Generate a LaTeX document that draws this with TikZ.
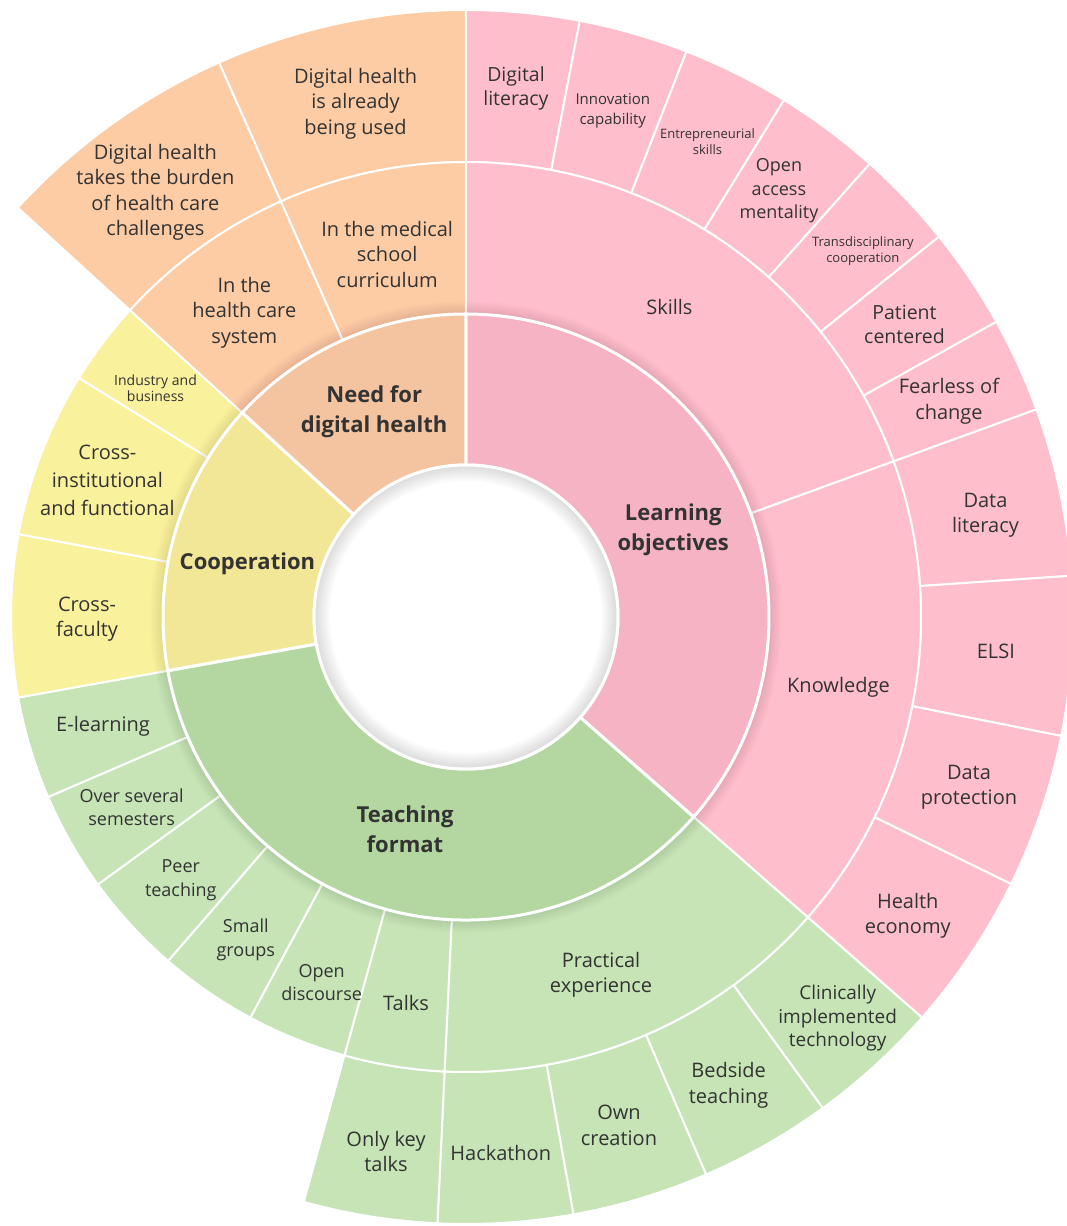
\documentclass[tikz,border=0pt]{standalone}
\usepackage{fontspec}
\setmainfont{Open Sans}
\usepackage{tikz}
\usetikzlibrary{calc}

\definecolor{pinkin}{HTML}{F5B3C4}
\definecolor{pinkout}{HTML}{FFBECB}
\definecolor{greenin}{HTML}{B4D7A1}
\definecolor{greenout}{HTML}{C6E4B6}
\definecolor{yellowin}{HTML}{F2E697}
\definecolor{yellowout}{HTML}{FAF19C}
\definecolor{orangein}{HTML}{F4C3A0}
\definecolor{orangeout}{HTML}{FDCBA4}
\definecolor{labgray}{HTML}{333333}

\tikzset{
seg/.style = {draw=white, line width=#1},
seg/.default = 2pt,
lab/.style = {align=center, text=labgray, inner sep=0pt,
              font=\fontsize{20}{25.5}\selectfont},
labm/.style = {lab, font=\fontsize{18}{23.5}\selectfont},
labs/.style = {lab, font=\fontsize{15}{19.5}\selectfont},
labxs/.style = {lab, font=\fontsize{13}{16.5}\selectfont},
labin/.style = {lab, font=\bfseries\fontsize{22}{30}\selectfont}
}
% [label options]{name}{start angle}{end angle}{inner r}{outer r}{colour}{text}
\newcommand{\ringseg}[8][]{%
  \filldraw[seg, fill=#7] (#3:#5pt) arc[start angle=#3, end angle=#4, radius=#5pt]
    -- (#4:#6pt) arc[start angle=#4, end angle=#3, radius=#6pt] -- cycle;
  \node[lab, #1] (#2) at ({(#3+#4)/2}:{(#5+#6)/2*1pt}) {#8};}

\begin{document}
\begin{tikzpicture}[x=1pt, y=1pt]
    \useasboundingbox (-466,-609) rectangle (600,617);

    % outer ring
    \ringseg[font=\fontsize{19.5}{24}\selectfont]{diglit}{90}{79.2}{455}{607}{pinkout}{Digital\\literacy};
    \ringseg[labs, yshift=-4]{innov}{79.2}{68.7}{455}{607}{pinkout}{Innovation\\capability};
    \ringseg[labxs, xshift=5]{entre}{68.7}{58.4}{455}{607}{pinkout}{Entrepreneurial\\skills};
    \ringseg[labm, xshift=-4]{openacc}{58.4}{48.3}{455}{607}{pinkout}{Open\\access\\mentality};
    \ringseg[labxs, xshift=12]{transd}{48.3}{38.8}{455}{607}{pinkout}{Transdisciplinary\\cooperation};
    \ringseg[font=\fontsize{19.5}{24}\selectfont, shift={(-2,-4)}]{patient}{38.8}{29.1}{455}{607}{pinkout}{Patient\\centered};
    \ringseg[yshift=-5]{fearless}{29.1}{20}{455}{607}{pinkout}{Fearless of\\change};
    \ringseg[yshift=-8]{datalit}{20}{3.9}{455}{607}{pinkout}{Data\\literacy};
    \ringseg{elsi}{3.9}{-11.3}{455}{607}{pinkout}{ELSI};
    \ringseg{dataprot}{-11.3}{-26.1}{455}{607}{pinkout}{Data\\protection};
    \ringseg[yshift=-4]{healthec}{-26.1}{-41.3}{455}{607}{pinkout}{Health\\economy};
    \ringseg[font=\fontsize{19}{23.5}\selectfont, shift={(14,-9)}]{clinic}{-41.3}{-54}{455}{607}{greenout}{Clinically\\implemented\\technology};
    \ringseg[yshift=-7]{bedside}{-54}{-66.7}{455}{607}{greenout}{Bedside\\teaching};
    \ringseg{owncr}{-66.7}{-79.8}{455}{607}{greenout}{Own\\creation};
    \ringseg[yshift=-6]{hack}{-79.8}{-92.7}{455}{607}{greenout}{Hackathon};
    \ringseg[shift={(4,-10)}]{keytalks}{-92.7}{-105.5}{455}{607}{greenout}{Only key\\talks};
    \ringseg[yshift=-6]{burden}{137.6}{114}{455}{607}{orangeout}{Digital health\\takes the burden\\of health care\\challenges};
    \ringseg[yshift=-6]{used}{114}{90}{455}{607}{orangeout}{Digital health\\is already\\being used};

    % middle ring
    \ringseg[xshift=-14]{skills}{90}{20}{303}{455}{pinkout}{Skills};
    \ringseg{knowl}{20}{-41.3}{303}{455}{pinkout}{Knowledge};
    \ringseg[shift={(-13,-9)}]{practical}{-41.3}{-92.7}{303}{455}{greenout}{Practical\\experience};
    \ringseg[yshift=-12]{talks}{-92.7}{-105.5}{303}{455}{greenout}{Talks};
    \ringseg[labm, shift={(-3,-14)}]{discourse}{-105.5}{-118.3}{303}{455}{greenout}{Open\\discourse};
    \ringseg[labm, shift={(-5,-11)}]{small}{-118.3}{-130.9}{303}{455}{greenout}{Small\\groups};
    \ringseg[labm, shift={(-6,-7)}]{peer}{-130.9}{-144}{303}{455}{greenout}{Peer\\teaching};
    \ringseg[labm, shift={(-5,-3)}]{semesters}{-144}{-156.7}{303}{455}{greenout}{Over several\\semesters};
    \ringseg{elearn}{-156.7}{-169.8}{303}{455}{greenout}{E-learning};
    \ringseg[yshift=-3]{faculty}{190.2}{169.5}{303}{455}{yellowout}{Cross-\\faculty};
    \ringseg[font=\fontsize{20}{28}\selectfont, xshift=-5]{institut}{169.5}{148.3}{303}{455}{yellowout}{Cross-\\institutional\\and functional};
    \ringseg[font=\fontsize{14}{16}\selectfont, xshift=-8]{industry}{148.3}{137.6}{303}{455}{yellowout}{Industry and\\business};
    \ringseg[yshift=-3]{hcsystem}{137.6}{114}{303}{455}{orangeout}{In the\\health care\\system};
    \ringseg[yshift=-8]{curric}{114}{90}{303}{455}{orangeout}{In the medical\\school\\curriculum};

    % soft shadow round the inner ring
    \foreach \k in {1,...,8}
      \fill[black, opacity=0.012] (0,0) circle[radius={(303+1.6*\k)*1pt}];

    % inner ring
    \tikzset{seg/.default = 3pt}
    \ringseg[labin, yshift=-7]{learning}{90}{-41.3}{152}{303}{pinkin}{Learning\\objectives};
    \ringseg[labin, yshift=7]{teaching}{-41.3}{-169.8}{152}{303}{greenin}{Teaching\\format};
    \ringseg[labin, yshift=-10]{cooper}{190.2}{137.6}{152}{303}{yellowin}{Cooperation};
    \ringseg[labin, yshift=-3]{need}{137.6}{90}{152}{303}{orangein}{Need for\\digital health};

    % hole with inner shadow
    \fill[white] (0,0) circle[radius=152pt];
    \foreach \k in {1,...,9}
      \fill[black, opacity=0.014, even odd rule] (0,0) circle[radius=152pt]
        circle[radius={(152-1.8*\k)*1pt}];
    \draw[seg=3pt] (0,0) circle[radius=152pt];
\end{tikzpicture}
\end{document}
